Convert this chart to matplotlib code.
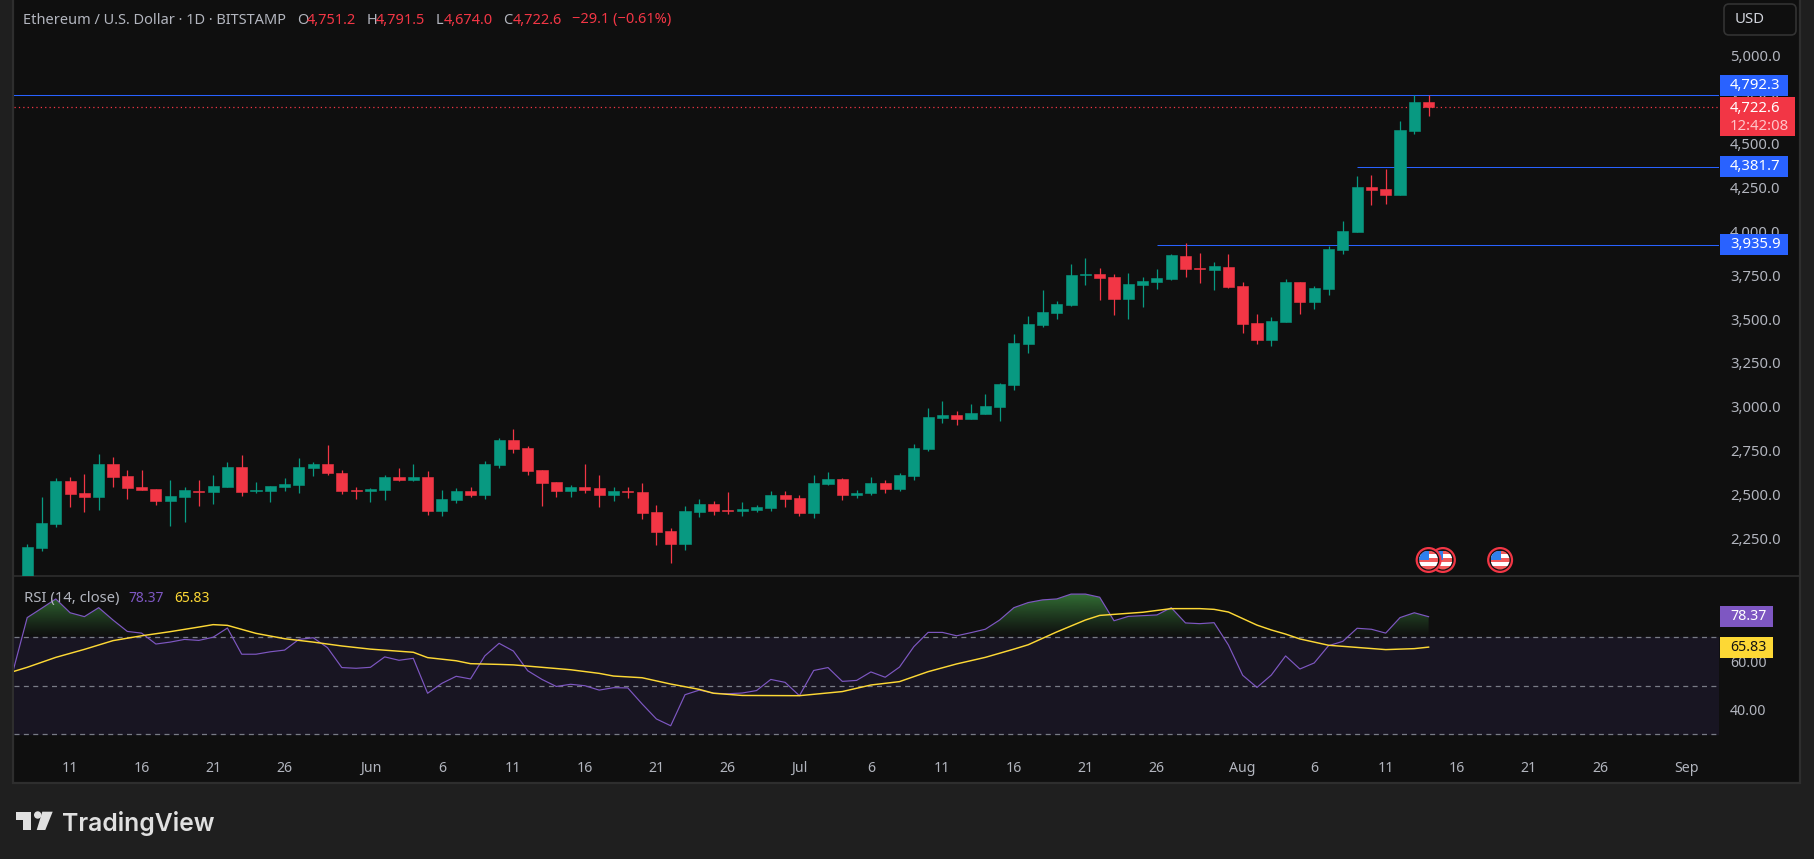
import numpy as np
import matplotlib
matplotlib.use("Agg")
import matplotlib.pyplot as plt
from matplotlib.patches import Rectangle, FancyBboxPatch, Circle, Polygon
from matplotlib.path import Path
from matplotlib.transforms import ScaledTranslation

# ---------- data ----------
opens = [2040,2211,2345,2592,2523,2499,2689,2620,2556,2546,2478,2499,2533,2529,2556,2670,2535,2535,2556,2569,
         2666,2689,2636,2542,2535,2539,2613,2596,2613,2421,2483,2535,2512,2683,2824,2780,2653,2586,2535,2556,
         2552,2512,2533,2529,2415,2305,2232,2415,2459,2426,2421,2426,2438,2512,2495,2409,2575,2603,2512,2523,
         2580,2546,2620,2773,2950,2967,2944,2974,3014,3138,3372,3480,3549,3594,3766,3771,3754,3629,3709,3726,
         3743,3874,3804,3794,3811,3703,3492,3395,3497,3726,3613,3686,3908,4011,4266,4255,4222,4586,4751.2]
highs = [2232,2499,2609,2613,2632,2746,2729,2653,2653,2546,2596,2556,2596,2626,2700,2740,2586,2563,2609,2723,
         2700,2797,2653,2556,2552,2626,2666,2689,2649,2539,2552,2556,2706,2837,2887,2790,2653,2586,2569,2689,
         2626,2556,2556,2580,2455,2324,2449,2489,2478,2529,2472,2455,2535,2535,2512,2626,2643,2609,2539,2613,
         2596,2636,2803,3007,3047,2991,3031,3088,3151,3429,3532,3680,3617,3827,3863,3804,3771,3777,3754,3800,
         3884,3948,3891,3840,3884,3726,3543,3526,3743,3726,3703,3931,4074,4329,4336,4369,4643,4791,4791.5]
lows = [2030,2192,2329,2443,2415,2426,2556,2489,2539,2455,2337,2358,2449,2459,2556,2506,2523,2472,2535,2523,
        2620,2626,2516,2489,2472,2483,2592,2592,2398,2392,2466,2502,2489,2666,2750,2626,2449,2499,2499,2523,
        2443,2478,2495,2375,2228,2124,2198,2385,2398,2402,2392,2415,2421,2443,2392,2381,2569,2483,2495,2512,
        2523,2535,2596,2763,2921,2911,2944,2974,2934,3111,3322,3469,3516,3589,3709,3623,3537,3516,3583,3686,
        3737,3754,3720,3680,3690,3435,3372,3362,3497,3543,3572,3650,3884,4011,4165,4169,4222,4570,4674.0]
closes = [2215,2352,2592,2516,2499,2689,2613,2550,2539,2478,2506,2539,2529,2563,2670,2529,2539,2563,2575,2670,
          2689,2636,2535,2537,2546,2613,2596,2613,2421,2489,2535,2512,2689,2824,2773,2649,2580,2535,2556,2539,
          2512,2535,2529,2409,2301,2232,2421,2459,2421,2421,2432,2443,2512,2489,2409,2580,2603,2512,2523,2580,
          2546,2626,2780,2957,2967,2944,2978,3018,3144,3379,3486,3556,3600,3766,3771,3747,3629,3714,3731,3747,
          3880,3800,3800,3817,3697,3486,3395,3503,3726,3613,3690,3914,4017,4266,4249,4222,4593,4751,4722.6]

# RSI starts one session before the first visible candle
rsi_values = [55.7,78.0,81.8,85.7,80.0,78.4,82.1,77.0,72.3,71.6,67.1,67.9,69.0,68.6,69.9,73.7,62.9,62.9,63.9,64.6,
              69.0,69.7,65.6,57.4,57.1,57.5,61.8,60.4,61.2,46.8,50.9,53.8,52.7,62.2,67.4,64.2,56.1,52.5,49.6,50.5,
              49.9,48.1,49.1,49.0,42.4,36.2,33.4,46.2,48.1,46.8,46.6,46.9,47.9,52.5,51.3,45.8,56.2,57.4,51.7,52.1,
              55.6,53.4,57.6,66.0,71.9,71.9,70.5,71.8,73.2,77.0,82.1,84.2,85.3,85.7,87.7,87.7,86.4,76.7,78.5,78.8,
              79.1,82.1,75.8,75.5,75.9,66.7,54.2,49.2,54.3,62.2,56.8,59.3,66.4,68.2,73.6,73.2,71.6,78.0,80.0,78.37]
ma_days = [-1,0,2,4,6,8,10,12,13,14,16,18,20,22,24,27,28,30,31,33,34,36,38,40,41,43,45,47,48,50,54,57,59,61,
           63,65,67,69,70,72,74,75,78,80,82,83,84,86,87,88,89,91,93,95,97,98]
ma_values = [55.7,57.5,61.6,64.9,68.5,70.5,72.2,74.1,75.1,74.8,71.5,69.3,67.9,66.3,65.0,63.7,61.5,60.2,59.0,58.7,
             58.5,57.5,56.5,55.0,53.9,53.2,50.6,48.4,46.8,45.9,45.8,47.5,50.2,51.6,
             55.7,58.9,61.6,65.0,66.8,72.1,77.0,78.9,80.2,81.7,81.7,81.4,80.3,74.9,72.9,71.2,69.2,66.6,65.7,64.8,65.2,65.83]

price_ticks = [2250,2500,2750,3000,3250,3500,3750,4000,4250,4500,4750,5000]
rsi_ticks = [40,60]
rsi_levels = [30,50,70]
time_ticks = [3,8,13,18,24,29,34,39,44,49,54,59,64,69,74,79,85,90,95,100,105,110,116]
time_labels = ["11","16","21","26","Jun","6","11","16","21","26","Jul","6","11","16","21","26","Aug","6","11","16","21","26","Sep"]
month_labels = ["Jun","Jul","Aug","Sep"]
level_prices = [4792.3,4381.7,3935.9]
level_starts = [-1,93,79]
last_price = 4722.6
rsi_last = 78.37
ma_last = 65.83
event_days = [99,103,98]

# ---------- style ----------
W,H = 1814,859
GREEN,RED,BLUE,PURPLE,YELLOW = "#089981","#F23645","#2962FF","#7E57C2","#FDD835"
BG,OUT,EDGE,TXT = "#0F0F0F","#1F1F1F","#2E2E2E","#B2B5BE"
FONT = "Noto Sans"
plt.rcParams["font.family"] = [FONT,"DejaVu Sans"]
FS = 10.7

fig = plt.figure(figsize=(W/100,H/100),dpi=100,facecolor=OUT)

def axpx(x0,y0,x1,y1,**k):
    return fig.add_axes([x0/W,1-y1/H,(x1-x0)/W,(y1-y0)/H],**k)

under = fig.add_axes([0,0,1,1],zorder=0); under.set_xlim(0,W); under.set_ylim(H,0); under.axis("off")
under.add_patch(Rectangle((13,-2),1787,785,fc=BG,ec=EDGE,lw=1.6))
under.plot([13,1800],[576,576],color=EDGE,lw=1.2)

PLOT_L,PLOT_R = 14,1719
X0,DX = 27.2,14.3
xlim = ((PLOT_L-X0)/DX,(PLOT_R-X0)/DX)

# ---------- price pane ----------
ax = axpx(PLOT_L,0,PLOT_R,576,zorder=1)
ax.patch.set_alpha(0)
ax.set_xlim(*xlim)
ax.set_ylim(2250-35/0.1755,2250+541/0.1755)
for s in ax.spines.values(): s.set_visible(False)
days = np.arange(len(opens))
o,h,l,c = map(np.array,(opens,highs,lows,closes))
cols = np.where(c>=o,GREEN,RED)
ax.vlines(days,l,h,colors=cols,lw=0.9,zorder=2)
ax.bar(days,np.abs(c-o),bottom=np.minimum(o,c),width=0.77,color=cols,edgecolor=cols,lw=0.4,zorder=3)
ax.axhline(last_price,color=RED,lw=0.9,ls=(0,(1,2.5)),zorder=1)
for p,s in zip(level_prices,level_starts):
    ax.plot([s,xlim[1]],[p,p],color=BLUE,lw=0.75,zorder=1.5,solid_capstyle="butt")
ax.set_xticks([])
ax.yaxis.tick_right()
ax.set_yticks(price_ticks)
ax.set_yticklabels([f"{t:,.1f}" for t in price_ticks],color=TXT,fontsize=FS)
ax.tick_params(axis="y",length=0,pad=8)
shift = ScaledTranslation(0,2.5/100,fig.dpi_scale_trans)
for t in ax.get_yticklabels():
    t.set_transform(t.get_transform()+shift)

# ---------- RSI pane ----------
rx = axpx(PLOT_L,576,PLOT_R,755,zorder=1)
rx.patch.set_alpha(0)
for s in rx.spines.values(): s.set_visible(False)
rsi = np.array(rsi_values); rd = np.arange(-1,len(rsi)-1)
rx.axhspan(rsi_levels[0],rsi_levels[2],color="#181522",zorder=0)
for lv in rsi_levels:
    rx.axhline(lv,color="#787B86",lw=0.9,ls=(0,(4,3.5)),zorder=1)
poly = rx.fill_between(rd,rsi_levels[2],rsi,where=rsi>rsi_levels[2],interpolate=True,color="none",lw=0)
clip = Path.make_compound_path(*poly.get_paths())
grad = np.zeros((256,1,4)); grad[...,:3] = matplotlib.colors.to_rgb("#3F9142")
grad[:,0,3] = np.linspace(0.0,0.78,256)**1.15
im = rx.imshow(grad,origin="lower",aspect="auto",extent=(xlim[0],xlim[1],70,88),zorder=1.5,interpolation="bilinear")
im.set_clip_path(clip,transform=rx.transData)
rx.plot(rd,rsi,color=PURPLE,lw=0.85,zorder=3)
rx.plot(ma_days,ma_values,color=YELLOW,lw=1.05,zorder=4)
rx.set_xlim(*xlim)
rx.set_ylim(50-69.5/2.425,50+109.5/2.425)
rx.yaxis.tick_right()
rx.set_yticks(rsi_ticks)
rx.set_yticklabels([f"{t:.2f}" for t in rsi_ticks],color=TXT,fontsize=10.2)
rx.tick_params(axis="y",length=0,pad=8)
rx.set_xticks(time_ticks)
rx.set_xticklabels(time_labels,color=TXT,fontsize=10.2)
for t in rx.get_xticklabels():
    if t.get_text() in month_labels: t.set_fontweight("bold")
rx.tick_params(axis="x",length=0,pad=4)

# ---------- overlay: tags, header, logo ----------
ov = fig.add_axes([0,0,1,1],zorder=5); ov.set_xlim(0,W); ov.set_ylim(H,0); ov.axis("off"); ov.patch.set_alpha(0)
def tag(x0,x1,y0,y1,col):
    ov.add_patch(Rectangle((x0,y0),x1-x0,y1-y0,fc=col,ec="none",zorder=6))
def label(x,y,s,col,weight="normal",fs=FS,ha="left"):
    return ov.text(x,y,s,color=col,fontsize=fs,fontweight=weight,ha=ha,va="center",zorder=7)

tag(1720,1788,75,96,BLUE);  label(1730,85.5,f"{level_prices[0]:,.1f}","white")
tag(1720,1795,97,136,RED);  label(1730,108,f"{last_price:,.1f}","white"); label(1730,126.5,"12:42:08","#FFC4C9")
tag(1720,1788,156,177,BLUE); label(1730,166.5,f"{level_prices[1]:,.1f}","white")
tag(1720,1788,234,255,BLUE); label(1730,244.5,f"{level_prices[2]:,.1f}","white")
tag(1720,1773,606,627,PURPLE); label(1730,616.5,f"{rsi_last:.2f}","white",fs=10.2)
tag(1720,1773,637,658,YELLOW); label(1730,647.5,f"{ma_last:.2f}","#131313",fs=10.2)

ov.add_patch(FancyBboxPatch((1724,4),72,31,boxstyle="round,pad=0,rounding_size=5",fc=BG,ec="#333333",lw=1.2,zorder=6))
label(1735,19.5,"USD","#D1D4DC")

HY,RY = 20,598.5
label(23,HY,"Ethereum / U.S. Dollar · 1D · BITSTAMP",TXT,fs=10.5)
for x,s in [(297,"O"),(367,"H"),(436,"L"),(503.6,"C")]:
    label(x,HY,s,TXT,fs=10.5)
for x,s in [(307,"4,751.2"),(376,"4,791.5"),(444,"4,674.0"),(512.5,"4,722.6"),(572,"−29.1 (−0.61%)")]:
    label(x,HY,s,RED,fs=10.5)
label(23.5,RY,"RSI (14, close)",TXT)
label(128.6,RY,f"{rsi_last:.2f}",PURPLE,fs=10)
label(174,RY,f"{ma_last:.2f}",YELLOW,fs=10)

# event flags
def flag(day,z):
    cx,cy,r = X0+day*DX,560,9.5
    ov.add_patch(Circle((cx,cy),r+2.4,fc="#131313",ec=RED,lw=1.6,zorder=z))
    clipc = Circle((cx,cy),r,transform=ov.transData)
    bands = ["#F05A5A","white","#F05A5A","white","#F05A5A"]
    for i,col in enumerate(bands):
        rr = Rectangle((cx-r,cy-r+i*0.4*r),2*r,0.4*r,fc=col,ec="none",zorder=z+0.1)
        ov.add_patch(rr); rr.set_clip_path(clipc)
    can = Rectangle((cx-r,cy-r),r*1.05,r*1.05,fc="#2F80ED",ec="none",zorder=z+0.2); ov.add_patch(can); can.set_clip_path(clipc)
for i,d in enumerate(event_days):
    flag(d,8+i)

# logo
LOGO = "#E0E0E0"
ov.add_patch(Polygon([(15.7,811.5),(31,811.5),(31,830),(22.7,830),(22.7,819.5),(15.7,819.5)],fc=LOGO,ec="none",zorder=6))
ov.add_patch(Circle((37.7,815),3.7,fc=LOGO,ec="none",zorder=6))
ov.add_patch(Polygon([(42.3,811.7),(52.7,811.7),(45.3,830),(36.7,830)],fc=LOGO,ec="none",zorder=6))
ov.text(62,823.5,"TradingView",color=LOGO,fontsize=17.8,fontweight="semibold",family="Inter",ha="left",va="center",zorder=6)

fig.savefig("out.png",dpi=100,facecolor=OUT)
